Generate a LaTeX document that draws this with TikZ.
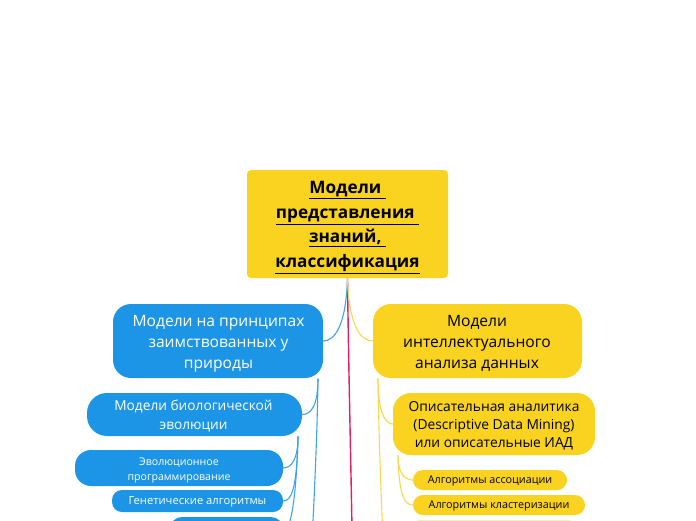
\documentclass[tikz,border=0pt]{standalone}
\usepackage{fontspec}
\setmainfont{Open Sans}
\definecolor{mblue}{HTML}{1D95E6}
\definecolor{myellow}{HTML}{F9D31F}
\definecolor{lblue}{HTML}{3FA3EA}
\definecolor{lyellow}{HTML}{F8D84E}
\definecolor{mpink}{HTML}{E2205E}
\definecolor{pale}{HTML}{FBEDB0}
\begin{document}
\begin{tikzpicture}[x=1pt,y=-1pt,
  box/.style={inner sep=0pt,minimum width=#1},
  bluebox/.style={box=#1,fill=mblue},
  yelbox/.style={box=#1,fill=myellow},
  wtext/.style={inner sep=0pt,align=center,text=white},
  ktext/.style={inner sep=0pt,align=center,text=black},
  bconn/.style={draw=lblue,line width=1.1pt},
  yconn/.style={draw=lyellow,line width=1.1pt}]
\useasboundingbox (0,0) rectangle (696,520);
\clip (0,0) rectangle (696,520);
% boxes
\node[yelbox=201pt,minimum height=108pt,rounded corners=4pt] (root) at (347.5,224) {};
\node[bluebox=210pt,minimum height=74pt,rounded corners=18pt] (l1) at (218,341) {};
\node[yelbox=209pt,minimum height=74pt,rounded corners=18pt] (r1) at (477.5,341) {};
\node[bluebox=215pt,minimum height=43pt,rounded corners=20pt] (l2) at (194.5,414.5) {};
\node[yelbox=202pt,minimum height=62pt,rounded corners=18pt] (r2) at (494,424) {};
\node[bluebox=208pt,minimum height=36pt,rounded corners=16pt] (evo) at (179,468) {};
\node[bluebox=171pt,minimum height=22pt,rounded corners=10pt] (gen) at (197.5,501) {};
\node[yelbox=154pt,minimum height=20pt,rounded corners=10pt] (assoc) at (490,480) {};
\node[yelbox=172pt,minimum height=20pt,rounded corners=10pt] (klast) at (499,505) {};
\node[box=113pt,minimum height=30pt,rounded corners=12pt,fill=mblue] (lcut) at (226.5,532) {};
\node[box=172pt,minimum height=30pt,rounded corners=12pt,fill=pale] (rcut) at (494,535) {};
% texts
\node[ktext,font=\bfseries\fontsize{17.2}{24.7}\selectfont] (roott) at (347.5,227.5)
  {\underline{Модели\ }\\\underline{представления\ }\\\underline{знаний,\ }\\\underline{классификация}};
\node[wtext,font=\fontsize{15.6}{21}\selectfont] (l1t) at (218.5,343.5)
  {Модели на принципах\\заимствованных у\\природы};
\node[ktext,font=\fontsize{15.6}{21}\selectfont] (r1t) at (477,343.5)
  {Модели \\интеллектуального\\анализа данных};
\node[wtext,font=\fontsize{13.7}{19}\selectfont] (l2t) at (193.5,416.5)
  {Модели биологической\\эволюции};
\node[ktext,font=\fontsize{13.8}{17.8}\selectfont] (r2t) at (494,425.5)
  {Описательная аналитика\\(Descriptive Data Mining)\\или описательные ИАД};
\node[wtext,font=\fontsize{10.6}{15}\selectfont] (evot) at (179,470)
  {Эволюционное\\программирование};
\node[wtext,font=\fontsize{11.2}{13}\selectfont] (gent) at (197.5,502)
  {Генетические алгоритмы};
\node[ktext,font=\fontsize{10.8}{13}\selectfont] (assoct) at (490,481)
  {Алгоритмы ассоциации};
\node[ktext,font=\fontsize{10.8}{13}\selectfont] (klastt) at (499,506)
  {Алгоритмы кластеризации};
% anchor points
\coordinate (rootb) at (347.5,278.5);
\coordinate (l1b) at (318,378.5);
\coordinate (r1b) at (378,378.5);
\coordinate (l2b) at (298,436.5);
\coordinate (r2b) at (398,455.5);
\coordinate (pinkend) at (353,600);
\coordinate (l1end) at (309,600);
\coordinate (r1end) at (386,600);
% connectors
\draw[draw=mpink,line width=1.4pt] (rootb) .. controls (349,400) and (352,500) .. (pinkend);
\draw[bconn] (rootb) .. controls (346,325) and (335,341) .. (l1.east);
\draw[yconn] (rootb) .. controls (349,325) and (360,341) .. (r1.west);
\draw[bconn] (l1b) .. controls (317,450) and (313,520) .. (l1end);
\draw[bconn] (l1b) .. controls (318,406) and (311,414.5) .. (l2.east);
\draw[yconn] (r1b) .. controls (379,450) and (382,520) .. (r1end);
\draw[yconn] (r1b) .. controls (378,412) and (385,424) .. (r2.west);
\draw[bconn] (l2b) .. controls (298,460) and (291,468) .. (evo.east);
\draw[bconn] (l2b) .. controls (297,490) and (291,501) .. (gen.east);
\draw[bconn] (l2b) .. controls (296,510) and (289,532) .. (lcut.east);
\draw[yconn] (r2b) .. controls (398,474) and (405,480) .. (assoc.west);
\draw[yconn] (r2b) .. controls (399,497) and (405,505) .. (klast.west);
\end{tikzpicture}
\end{document}
